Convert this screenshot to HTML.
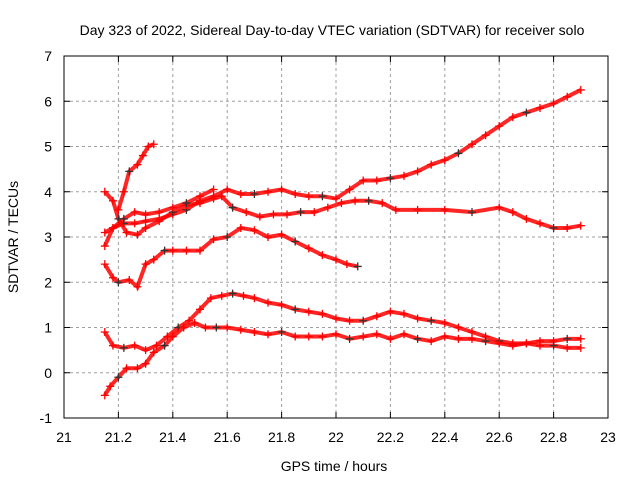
<!DOCTYPE html>
<html><head><meta charset="utf-8"><style>
body{margin:0;background:#fff}
svg{display:block;font-family:"Liberation Sans",sans-serif}
</style></head><body>
<svg id="c" width="640" height="480">
<text x="332" y="35" text-anchor="middle" font-size="14">Day 323 of 2022, Sidereal Day-to-day VTEC variation (SDTVAR) for receiver solo</text>
<text x="334" y="471" text-anchor="middle" font-size="14">GPS time / hours</text>
<text transform="translate(18,237) rotate(-90)" text-anchor="middle" font-size="14">SDTVAR / TECUs</text>
<g id="grid"></g><g id="ticks"></g><g id="marks"></g>
<rect x="64" y="56" width="544" height="362" fill="none" stroke="#000" stroke-width="1"/>
</svg>
<script>
const xTicks=[21,21.2,21.4,21.6,21.8,22,22.2,22.4,22.6,22.8,23];
const xTickLabels=["21","21.2","21.4","21.6","21.8","22","22.2","22.4","22.6","22.8","23"];
const yTicks=[-1,0,1,2,3,4,5,6,7];
const yTickLabels=["-1","0","1","2","3","4","5","6","7"];
const s1=[[21.15,2.4],[21.18,2.1],[21.2,2.0],[21.24,2.05],[21.27,1.9],[21.3,2.4],[21.33,2.5],[21.37,2.7],[21.4,2.7],[21.45,2.7],[21.5,2.7],[21.55,2.95],[21.6,3.0],[21.65,3.2],[21.7,3.15],[21.75,3.0],[21.8,3.05],[21.85,2.9],[21.9,2.75],[21.95,2.6],[22.0,2.5],[22.04,2.4],[22.08,2.35]];
const s2=[[21.15,2.8],[21.18,3.2],[21.22,3.3],[21.26,3.3],[21.3,3.35],[21.35,3.4],[21.4,3.5],[21.45,3.6],[21.5,3.8],[21.55,3.9],[21.6,4.05],[21.65,3.95],[21.7,3.95],[21.75,4.0],[21.8,4.05],[21.85,3.95],[21.9,3.9],[21.95,3.9],[22.0,3.85],[22.05,4.05],[22.1,4.25],[22.15,4.25],[22.2,4.3],[22.25,4.35],[22.3,4.45],[22.35,4.6],[22.4,4.7],[22.45,4.85],[22.5,5.05],[22.55,5.25],[22.6,5.45],[22.65,5.65],[22.7,5.75],[22.75,5.85],[22.8,5.95],[22.85,6.1],[22.9,6.25]];
const s3=[[21.15,4.0],[21.18,3.8],[21.2,3.4],[21.23,3.1],[21.27,3.05],[21.3,3.2],[21.35,3.35],[21.4,3.55],[21.45,3.7],[21.5,3.75],[21.55,3.85],[21.58,3.9],[21.62,3.65],[21.67,3.55],[21.72,3.45],[21.77,3.5],[21.82,3.5],[21.87,3.55],[21.92,3.55],[21.97,3.65],[22.02,3.75],[22.07,3.8],[22.12,3.8],[22.17,3.75],[22.22,3.6],[22.3,3.6],[22.4,3.6],[22.5,3.55],[22.6,3.65],[22.65,3.55],[22.7,3.4],[22.75,3.3],[22.8,3.2],[22.85,3.2],[22.9,3.25]];
const s4=[[21.15,3.1],[21.18,3.2],[21.22,3.4],[21.26,3.55],[21.3,3.5],[21.35,3.55],[21.4,3.65],[21.45,3.75],[21.5,3.9],[21.55,4.05]];
const s5=[[21.2,3.6],[21.22,4.0],[21.24,4.45],[21.27,4.6],[21.29,4.8],[21.31,5.0],[21.33,5.05]];
const s6=[[21.15,0.9],[21.18,0.6],[21.22,0.55],[21.26,0.6],[21.3,0.5],[21.34,0.6],[21.38,0.8],[21.42,1.0],[21.46,1.15],[21.5,1.4],[21.54,1.65],[21.58,1.7],[21.62,1.75],[21.66,1.7],[21.7,1.65],[21.75,1.55],[21.8,1.5],[21.85,1.4],[21.9,1.35],[21.95,1.3],[22.0,1.2],[22.05,1.15],[22.1,1.15],[22.15,1.25],[22.2,1.35],[22.25,1.3],[22.3,1.2],[22.35,1.15],[22.4,1.1],[22.45,1.0],[22.5,0.9],[22.55,0.8],[22.6,0.7],[22.65,0.65],[22.7,0.65],[22.75,0.7],[22.8,0.7],[22.85,0.75],[22.9,0.75]];
const s7=[[21.15,-0.5],[21.17,-0.3],[21.2,-0.1],[21.23,0.1],[21.27,0.1],[21.3,0.2],[21.33,0.45],[21.37,0.6],[21.4,0.8],[21.44,1.0],[21.48,1.1],[21.52,1.0],[21.56,1.0],[21.6,1.0],[21.65,0.95],[21.7,0.9],[21.75,0.85],[21.8,0.9],[21.85,0.8],[21.9,0.8],[21.95,0.8],[22.0,0.85],[22.05,0.75],[22.1,0.8],[22.15,0.85],[22.2,0.75],[22.25,0.85],[22.3,0.75],[22.35,0.7],[22.4,0.8],[22.45,0.75],[22.5,0.75],[22.55,0.7],[22.6,0.65],[22.65,0.6],[22.7,0.65],[22.75,0.6],[22.8,0.6],[22.85,0.55],[22.9,0.55]];
const series=[s1,s2,s3,s4,s5,s6,s7];
const NS="http://www.w3.org/2000/svg";
const X=v=>64+(v-21)*272, Y=v=>418-(v+1)*45.25;
function mk(t,a,p){const e=document.createElementNS(NS,t);for(const k in a)e.setAttribute(k,a[k]);p.appendChild(e);return e;}
const grid=document.getElementById('grid'),ticks=document.getElementById('ticks'),marks=document.getElementById('marks');
xTicks.forEach((v,i)=>{
 if(i>0&&i<xTicks.length-1){const g=mk('line',{x1:X(v),x2:X(v),y1:56,y2:418,stroke:'#a0a0a0','stroke-dasharray':'3,3'},grid);
 
 }
 mk('line',{x1:X(v),x2:X(v),y1:418,y2:412,stroke:'#000'},ticks);
 mk('line',{x1:X(v),x2:X(v),y1:56,y2:62,stroke:'#000'},ticks);
 const t=mk('text',{x:X(v),y:442,'text-anchor':'middle','font-size':14},ticks);t.textContent=xTickLabels[i];
 
 
});
yTicks.forEach((v,i)=>{
 if(i>0&&i<yTicks.length-1){const g=mk('line',{x1:64,x2:608,y1:Y(v),y2:Y(v),stroke:'#a0a0a0','stroke-dasharray':'3,3'},grid);
 
 }
 mk('line',{x1:64,x2:70,y1:Y(v),y2:Y(v),stroke:'#000'},ticks);
 mk('line',{x1:602,x2:608,y1:Y(v),y2:Y(v),stroke:'#000'},ticks);
 const t=mk('text',{x:52,y:Y(v)+5,'text-anchor':'end','font-size':14},ticks);t.textContent=yTickLabels[i];
 
 
});
series.forEach((s,si)=>{
 const pl=mk('polyline',{points:s.map(p=>X(p[0])+','+Y(p[1])).join(' '),fill:'none',stroke:'#f00','stroke-width':4,opacity:0.85},marks);
 
 
 s.forEach((p,j)=>{
  const x=X(p[0]),y=Y(p[1]);
  const col=(j%5==2)?'#333':'#f00';
  const m=mk('path',{d:`M${x-4},${y}H${x+4}M${x},${y-4}V${y+4}`,stroke:col,'stroke-width':1.3},marks);
  
  
 });
});
</script>
</body></html>
